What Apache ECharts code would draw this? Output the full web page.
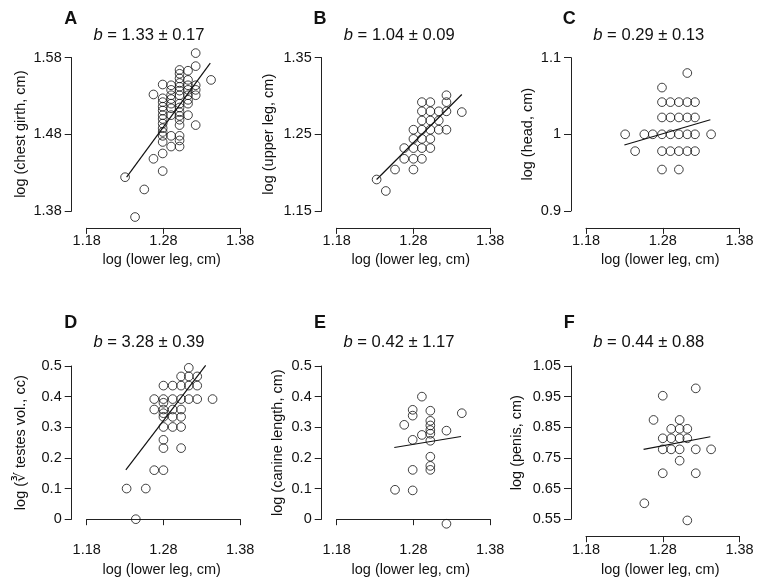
<!DOCTYPE html>
<html>
<head>
<meta charset="utf-8">
<script src="https://cdn.jsdelivr.net/npm/echarts@6/dist/echarts.min.js"></script>
<style>
html,body{margin:0;padding:0;background:#fff;}
#chart{width:763px;height:588px;}
</style>
</head>
<body>
<div id="chart"></div>
<script>
// ---------- data ----------
const panelLetters = ['A', 'B', 'C', 'D', 'E', 'F'];
const slopeLabels = ['1.33 ± 0.17', '1.04 ± 0.09', '0.29 ± 0.13', '3.28 ± 0.39', '0.42 ± 1.17', '0.44 ± 0.88'];
const yTitles = ['log (chest girth, cm)', 'log (upper leg, cm)', 'log (head, cm)',
                 'log (∛ testes vol., cc)', 'log (canine length, cm)', 'log (penis, cm)'];
const xTitle = 'log (lower leg, cm)';

const xTicks = [1.18, 1.28, 1.38];
const yTicksA = [1.38, 1.48, 1.58];
const yTicksB = [1.15, 1.25, 1.35];
const yTicksC = [0.9, 1, 1.1];
const yTicksD = [0, 0.1, 0.2, 0.3, 0.4, 0.5];
const yTicksE = [0, 0.1, 0.2, 0.3, 0.4, 0.5];
const yTicksF = [0.55, 0.65, 0.75, 0.85, 0.95, 1.05];

const ptsA = [
  [1.230, 1.424], [1.243, 1.372], [1.255, 1.408], [1.267, 1.532], [1.267, 1.448],
  [1.279, 1.545], [1.279, 1.527], [1.279, 1.522], [1.279, 1.516], [1.279, 1.511], [1.279, 1.505],
  [1.279, 1.500], [1.279, 1.494], [1.279, 1.488], [1.279, 1.483], [1.279, 1.478], [1.279, 1.470],
  [1.279, 1.455], [1.279, 1.432],
  [1.290, 1.544], [1.290, 1.538], [1.290, 1.531], [1.290, 1.526], [1.290, 1.520], [1.290, 1.514],
  [1.290, 1.505], [1.290, 1.478], [1.290, 1.464],
  [1.301, 1.564], [1.301, 1.559], [1.301, 1.553], [1.301, 1.547], [1.301, 1.542], [1.301, 1.537],
  [1.301, 1.531], [1.301, 1.520], [1.301, 1.515], [1.301, 1.509], [1.301, 1.504], [1.301, 1.499],
  [1.301, 1.492], [1.301, 1.478], [1.301, 1.472], [1.301, 1.464],
  [1.312, 1.563], [1.312, 1.551], [1.312, 1.544], [1.312, 1.538], [1.312, 1.531], [1.312, 1.525],
  [1.312, 1.520], [1.312, 1.505],
  [1.322, 1.586], [1.322, 1.569], [1.322, 1.544], [1.322, 1.538], [1.322, 1.531], [1.322, 1.492],
  [1.342, 1.551]
];
const ptsB = [
  [1.232, 1.191], [1.244, 1.176], [1.256, 1.204], [1.268, 1.232], [1.268, 1.218],
  [1.280, 1.256], [1.280, 1.244], [1.280, 1.232], [1.280, 1.218], [1.280, 1.204],
  [1.291, 1.292], [1.291, 1.280], [1.291, 1.268], [1.291, 1.256], [1.291, 1.244], [1.291, 1.232], [1.291, 1.218],
  [1.302, 1.292], [1.302, 1.280], [1.302, 1.268], [1.302, 1.256], [1.302, 1.244], [1.302, 1.232],
  [1.313, 1.280], [1.313, 1.268], [1.313, 1.256],
  [1.323, 1.301], [1.323, 1.292], [1.323, 1.280], [1.323, 1.256],
  [1.343, 1.279]
];
const ptsC = [
  [1.312, 1.080], [1.279, 1.061],
  [1.279, 1.042], [1.290, 1.042], [1.301, 1.042], [1.312, 1.042], [1.322, 1.042],
  [1.279, 1.022], [1.290, 1.022], [1.301, 1.022], [1.312, 1.022], [1.322, 1.022],
  [1.231, 1.000], [1.256, 1.000], [1.267, 1.000], [1.279, 1.000], [1.290, 1.000], [1.301, 1.000],
  [1.312, 1.000], [1.322, 1.000], [1.343, 1.000],
  [1.244, 0.978], [1.279, 0.978], [1.290, 0.978], [1.301, 0.978], [1.312, 0.978], [1.322, 0.978],
  [1.279, 0.954], [1.301, 0.954]
];
const ptsD = [
  [1.313, 0.494],
  [1.303, 0.466], [1.313, 0.466], [1.324, 0.466],
  [1.280, 0.436], [1.292, 0.436], [1.303, 0.436], [1.313, 0.436], [1.324, 0.436],
  [1.268, 0.392], [1.280, 0.392], [1.292, 0.392], [1.303, 0.392], [1.313, 0.392], [1.324, 0.392], [1.344, 0.392],
  [1.280, 0.380],
  [1.268, 0.358], [1.280, 0.358], [1.292, 0.358], [1.303, 0.358],
  [1.280, 0.346],
  [1.280, 0.334], [1.292, 0.334], [1.303, 0.334],
  [1.280, 0.301], [1.292, 0.301], [1.303, 0.301],
  [1.280, 0.259],
  [1.280, 0.232], [1.303, 0.232],
  [1.268, 0.160], [1.280, 0.160],
  [1.232, 0.100], [1.257, 0.100],
  [1.244, 0.000]
];
const ptsE = [
  [1.256, 0.096], [1.268, 0.308],
  [1.279, 0.357], [1.279, 0.338], [1.279, 0.259], [1.279, 0.161], [1.279, 0.094],
  [1.291, 0.400], [1.291, 0.275],
  [1.302, 0.354], [1.302, 0.321], [1.302, 0.306], [1.302, 0.291], [1.302, 0.279], [1.302, 0.256],
  [1.302, 0.204], [1.302, 0.174], [1.302, 0.161],
  [1.323, 0.289], [1.323, -0.015],
  [1.343, 0.346]
];
const ptsF = [
  [1.256, 0.602], [1.268, 0.874],
  [1.280, 0.953], [1.280, 0.814], [1.280, 0.778], [1.280, 0.700],
  [1.291, 0.845], [1.291, 0.814], [1.291, 0.778],
  [1.302, 0.874], [1.302, 0.845], [1.302, 0.814], [1.302, 0.778], [1.302, 0.741],
  [1.312, 0.845], [1.312, 0.814], [1.312, 0.546],
  [1.323, 0.977], [1.323, 0.778], [1.323, 0.700],
  [1.343, 0.778]
];

const fitA = [[1.232, 1.424], [1.341, 1.573]];
const fitB = [[1.232, 1.191], [1.343, 1.302]];
const fitC = [[1.230, 0.986], [1.342, 1.019]];
const fitD = [[1.231, 0.161], [1.335, 0.502]];
const fitE = [[1.255, 0.234], [1.342, 0.270]];
const fitF = [[1.255, 0.778], [1.342, 0.819]];

// ---------- layout / style ----------
const FONT = '"Liberation Sans", Arial, Helvetica, sans-serif';
const INK = '#111';
const AXC = '#222';

const yTicksAll = [yTicksA, yTicksB, yTicksC, yTicksD, yTicksE, yTicksF];
const ptsAll = [ptsA, ptsB, ptsC, ptsD, ptsE, ptsF];
const fitAll = [fitA, fitB, fitC, fitD, fitE, fitF];

const colLeft = [86.7, 336.7, 586];
const rowTop = [57.7, 366];
const gridW = 153.5, gridH = 153.2;

const grids = [], xAxes = [], yAxes = [], series = [], graphics = [];

const letterPos = [[70.7, 19.5], [320, 19.5], [569.3, 19.5], [70.7, 323.5], [320, 323.5], [569.3, 323.5]];
const slopePos = [[149, 35], [399.3, 35], [648.8, 35], [149, 342.3], [399, 342.3], [648.8, 342.3]];
const yTitlePos = [[20.7, 134.2], [269, 134.2], [528.3, 134.2], [20.7, 442.7], [278.3, 442.7], [516.7, 442.7]];
const xTitlePos = [[161.7, 260], [410.8, 260], [660.3, 260], [161.7, 569.5], [410.8, 569.5], [660.3, 569.5]];

for (let i = 0; i < 6; i++) {
  const c = i % 3, r = Math.floor(i / 3);
  const yt = yTicksAll[i];
  grids.push({ left: colLeft[c], top: rowTop[r], width: gridW, height: gridH });
  xAxes.push({
    gridIndex: i, type: 'value', min: xTicks[0], max: xTicks[xTicks.length - 1],
    offset: 17,
    axisLine: { show: true, lineStyle: { color: AXC, width: 1 } },
    axisTick: { show: true, length: 6, inside: false, customValues: xTicks, lineStyle: { color: AXC, width: 1 } },
    axisLabel: { show: true, customValues: xTicks, margin: 6, fontSize: 14.5, fontFamily: FONT, color: INK },
    splitLine: { show: false }
  });
  yAxes.push({
    gridIndex: i, type: 'value', min: yt[0], max: yt[yt.length - 1],
    offset: 15,
    axisLine: { show: true, lineStyle: { color: AXC, width: 1 } },
    axisTick: { show: true, length: 7, inside: false, customValues: yt, lineStyle: { color: AXC, width: 1 } },
    axisLabel: { show: true, customValues: yt, margin: 10, fontSize: 14.5, fontFamily: FONT, color: INK },
    splitLine: { show: false }
  });
  series.push({
    type: 'scatter', xAxisIndex: i, yAxisIndex: i, data: ptsAll[i],
    symbol: 'circle', symbolSize: 8.7, clip: false, silent: true,
    itemStyle: { color: 'rgba(0,0,0,0)', borderColor: INK, borderWidth: 1 }
  });
  series.push({
    type: 'line', xAxisIndex: i, yAxisIndex: i, data: fitAll[i],
    symbol: 'none', showSymbol: false, clip: false, silent: true,
    lineStyle: { color: INK, width: 1.2 }
  });

  graphics.push({
    type: 'text', x: letterPos[i][0], y: letterPos[i][1],
    style: { text: panelLetters[i], x: 0, y: 0, align: 'center', verticalAlign: 'middle',
             font: 'bold 18px ' + FONT, fill: INK }
  });
  graphics.push({
    type: 'text', x: slopePos[i][0], y: slopePos[i][1],
    style: { text: '{i|b} = ' + slopeLabels[i], x: 0, y: 0, align: 'center', verticalAlign: 'middle',
             font: '16.6px ' + FONT, fill: INK,
             rich: { i: { fontStyle: 'italic', fontSize: 16.6, fontFamily: FONT, fill: INK } } }
  });
  graphics.push({
    type: 'text', x: yTitlePos[i][0], y: yTitlePos[i][1], rotation: Math.PI / 2,
    style: { text: yTitles[i], x: 0, y: 0, align: 'center', verticalAlign: 'middle',
             font: '14.5px ' + FONT, fill: INK }
  });
  graphics.push({
    type: 'text', x: xTitlePos[i][0], y: xTitlePos[i][1],
    style: { text: xTitle, x: 0, y: 0, align: 'center', verticalAlign: 'middle',
             font: '14.5px ' + FONT, fill: INK }
  });
}

const chart = echarts.init(document.getElementById('chart'), null, { renderer: 'canvas' });
chart.setOption({
  animation: false,
  backgroundColor: '#fff',
  grid: grids,
  xAxis: xAxes,
  yAxis: yAxes,
  series: series,
  graphic: graphics
});
</script>
</body>
</html>
